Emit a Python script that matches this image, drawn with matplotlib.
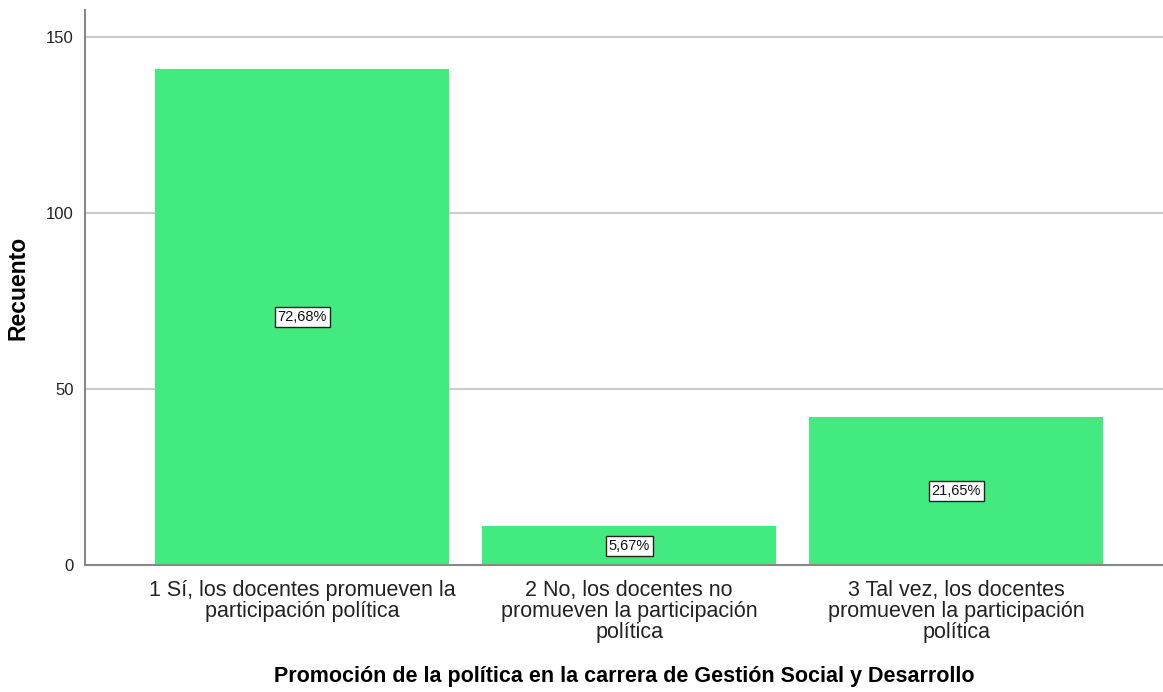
import matplotlib.pyplot as plt
import numpy as np

plt.rcParams['font.family'] = ['Liberation Sans', 'DejaVu Sans']

categorias = ["1 Sí, los docentes promueven la\nparticipación política",
              "2 No, los docentes no\npromueven la participación\npolítica",
              "3 Tal vez, los docentes\npromueven la participación\npolítica"]
recuento = [141, 11, 42]
porcentajes = ["72,68%", "5,67%", "21,65%"]
yticks = [0, 50, 100, 150]

fig = plt.figure(figsize=(11.63, 6.92), dpi=100)
ax = fig.add_axes([0.0731, 0.1835, 0.927, 0.802])

x = np.arange(len(categorias))
ax.bar(x, recuento, width=0.9, color="#43EA80", zorder=2)

# etiquetas de porcentaje en el centro de cada barra
for xi, v, p in zip(x, recuento, porcentajes):
    ax.text(xi, v / 2, p, ha="center", va="center", fontsize=10.5, color="#111111", zorder=3,
            bbox=dict(boxstyle="square,pad=0.2", facecolor="white", edgecolor="#222222", linewidth=1))

ax.set_xlim(-0.664, 2.633)
ax.set_ylim(0, 157.7)
ax.set_yticks(yticks)
ax.set_xticks(x)
ax.set_xticklabels(categorias, fontsize=15.5, color="#222222", linespacing=1.0)
ax.tick_params(axis="y", labelsize=12, colors="#222222", length=0, pad=8)
ax.tick_params(axis="x", length=0, pad=11)

ax.yaxis.grid(True, color="#cccccc", linewidth=1.5, zorder=0)
ax.set_axisbelow(True)
for s in ["top", "right"]:
    ax.spines[s].set_visible(False)
for s in ["left", "bottom"]:
    ax.spines[s].set_color("#888888")
    ax.spines[s].set_linewidth(1.5)

ax.set_ylabel("Recuento", fontsize=16.5, fontweight="bold", labelpad=12)
ax.set_xlabel("Promoción de la política en la carrera de Gestión Social y Desarrollo",
              fontsize=15.5, fontweight="bold", labelpad=16)

fig.savefig("out.png", dpi=100)
